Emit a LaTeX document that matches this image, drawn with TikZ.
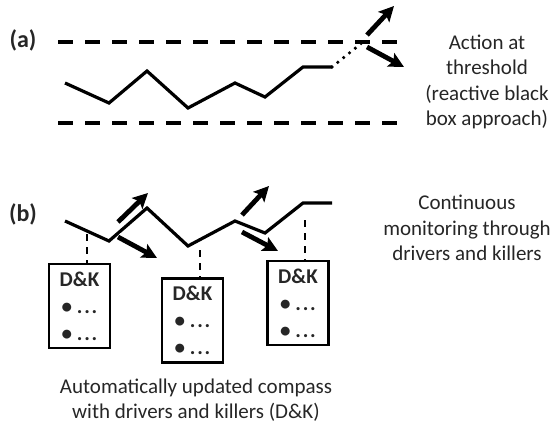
\documentclass[tikz,border=0pt]{standalone}
\usepackage{fontspec}
\setmainfont{Carlito}
\usetikzlibrary{arrows.meta,calc}
\definecolor{txtc}{HTML}{262626}
\newcommand\dkdots{.\kern1.8pt.\kern1.8pt.}
\begin{document}
\begin{tikzpicture}[x=1pt,y=-1pt,
  lab/.style={font=\fontsize{24}{28}\selectfont\bfseries, text=txtc, inner sep=0pt},
  txt/.style={font=\fontsize{21}{25.5}\selectfont, text=txtc, align=center, inner sep=0pt},
  thr/.style={line width=3.6pt, dash pattern=on 15pt off 12pt},
  zig/.style={line width=3.2pt, line join=miter},
  dotline/.style={line width=3.6pt, line cap=round, dash pattern=on 0pt off 7.5pt},
  bigarrow/.style={line width=4.8pt, -{Stealth[length=15pt,width=15pt,inset=3pt]}},
  warrow/.style={bigarrow, preaction={draw=white, line width=9pt, -}},
  vdash/.style={line width=2.4pt, dash pattern=on 7pt off 6pt},
  dkbox/.style={draw, line width=2.6pt, minimum width=61pt, minimum height=84pt, inner sep=0pt,
     font=\fontsize{21}{27}\selectfont\bfseries, text=txtc, align=center}
]
\useasboundingbox (0,0) rectangle (555,426);

% ---------- (a)
\node[lab] (la) at (23,40) {(a)};
\coordinate (ta1) at (58,42); \coordinate (ta2) at (404,42);
\coordinate (ba1) at (58,123); \coordinate (ba2) at (404,123);
\draw[thr] (ta1) -- (ta2);
\draw[thr] (ba1) -- (ba2);

\coordinate (a1) at (65,83);
\coordinate (a2) at (109,103);
\coordinate (a3) at (147,71);
\coordinate (a4) at (188,108);
\coordinate (a5) at (235,83);
\coordinate (a6) at (265,97);
\coordinate (a7) at (303,67);
\coordinate (a8) at (332,67);
\draw[zig] (a1) -- (a2) -- (a3) -- (a4) -- (a5) -- (a6) -- (a7) -- (a8);
\coordinate (ax) at (363,42);
\draw[dotline] (a8) -- (ax);

\coordinate (as1) at (367,35); \coordinate (at1) at (394,6);
\coordinate (as2) at (367,47); \coordinate (at2) at (404,67);
\draw[bigarrow] (as1) -- (at1);
\draw[bigarrow] (as2) -- (at2);

\node[txt] (tA) at (487,82) {Action at\\threshold\\(reactive black\\box approach)};

% ---------- (b)
\node[lab] (lb) at (23,214) {(b)};

\coordinate (b1) at (65,221);
\coordinate (b2) at (109,241);
\coordinate (b3) at (147,208);
\coordinate (b4) at (188,246);
\coordinate (b5) at (235,221);
\coordinate (b6) at (265,233);
\coordinate (b7) at (303,203);
\coordinate (b8) at (332,203);
\draw[zig] (b1) -- (b2) -- (b3) -- (b4) -- (b5) -- (b6) -- (b7) -- (b8);

\coordinate (bs1) at (118,222); \coordinate (bt1) at (148,193);
\coordinate (bs2) at (118,237); \coordinate (bt2) at (157,258);
\coordinate (bs3) at (242,215); \coordinate (bt3) at (269,186);
\coordinate (bs4) at (242,232); \coordinate (bt4) at (278,251);
\draw[warrow] (bs1) -- (bt1);
\draw[warrow] (bs2) -- (bt2);
\draw[warrow] (bs3) -- (bt3);
\draw[warrow] (bs4) -- (bt4);

\node[dkbox] (k1) at (79.5,306) {D\&K\\• \dkdots\\• \dkdots};
\node[dkbox] (k2) at (192.5,320.5) {D\&K\\• \dkdots\\• \dkdots};
\node[dkbox] (k3) at (298,303) {D\&K\\• \dkdots\\• \dkdots};

\coordinate (d1) at (87,234);
\coordinate (d2) at (200,250);
\coordinate (d3) at (305,220);
\draw[vdash] (d1) -- (d1 |- k1.north);
\draw[vdash] (d2) -- (d2 |- k2.north);
\draw[vdash] (d3) -- (d3 |- k3.north);

\node[txt] (tB) at (467,228) {Continuous\\monitoring through\\drivers and killers};
\node[txt] (tC) at (196,400) {Automatically updated compass\\with drivers and killers (D\&K)};
\end{tikzpicture}
\end{document}
